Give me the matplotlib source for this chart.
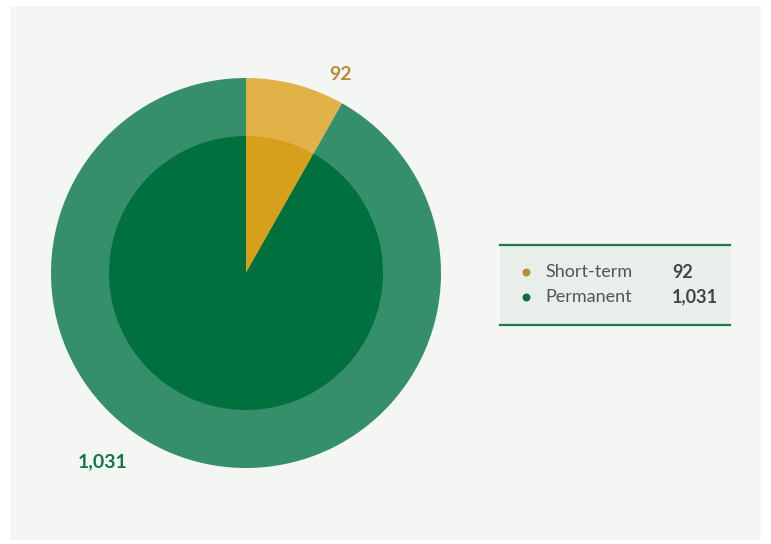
import matplotlib.pyplot as plt
from matplotlib.patches import Rectangle

# Employee counts by contract type
categories = ["Short-term", "Permanent"]
counts = [92, 1031]
value_labels = ["92", "1,031"]

outer_colors = ["#e2b148", "#358f6b"]
inner_colors = ["#d7a01c", "#00703f"]
text_colors = ["#b58d35", "#137548"]

W, H = 771, 544
fig = plt.figure(figsize=(W / 100, H / 100), dpi=100)
fig.patch.set_facecolor("white")
ax = fig.add_axes([0, 0, 1, 1])

# panel background
ax.add_patch(Rectangle((10, 4), 751, 534, facecolor="#f4f6f3", edgecolor="none", zorder=0))

cx, cy = 246, 271
ax.pie(counts, colors=outer_colors, startangle=90, counterclock=False,
       radius=195, center=(cx, cy), frame=True,
       wedgeprops=dict(edgecolor="none", linewidth=0))
ax.pie(counts, colors=inner_colors, startangle=90, counterclock=False,
       radius=137, center=(cx, cy), frame=True,
       wedgeprops=dict(edgecolor="none", linewidth=0))
ax.set_xlim(0, W)
ax.set_ylim(0, H)
ax.set_aspect("equal")
ax.axis("off")

font = "Lato"
ax.text(341, H - 74, value_labels[0], color=text_colors[0], fontsize=14,
        fontweight="bold", family=font, ha="center", va="center")
ax.text(103, H - 462, value_labels[1], color=text_colors[1], fontsize=14,
        fontweight="bold", family=font, ha="center", va="center")

# legend box
lx0, lx1 = 500, 730
ly_top, ly_bot = H - 245, H - 325
ax.add_patch(Rectangle((lx0, ly_bot), lx1 - lx0, ly_top - ly_bot,
                       facecolor="#e8eeea", edgecolor="none", zorder=3))
ax.plot([lx0, lx1], [ly_top, ly_top], color="#1b7a52", lw=1.6, zorder=4)
ax.plot([lx0, lx1], [ly_bot, ly_bot], color="#1b7a52", lw=1.6, zorder=4)

dot_colors = ["#b58d35", "#0a6e44"]
for i, (cat, lab) in enumerate(zip(categories, value_labels)):
    y = H - (272 + i * 25)
    ax.scatter([526], [y], s=22, color=dot_colors[i], zorder=5)
    ax.text(545, y, cat, color="#555555", fontsize=13, family=font,
            ha="left", va="center", zorder=5)
    ax.text(672, y, lab, color="#444444", fontsize=13, fontweight="bold",
            family=font, ha="left", va="center", zorder=5)

fig.savefig("out.png", dpi=100, facecolor="white")
